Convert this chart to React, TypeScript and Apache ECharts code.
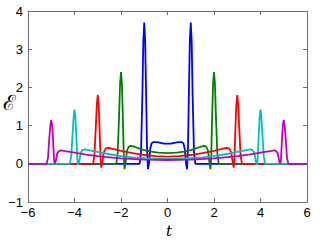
import React, { useEffect, useRef } from "react";
import * as echarts from "echarts";

const xTicks = [-6, -4, -2, 0, 2, 4, 6];
const yTicks = [-1, 0, 1, 2, 3, 4];

const blue: number[][] = [
  [-6, 0], [-1.2, 0], [-1.14, 0.3], [-1.08, 1.8], [-1.04, 3.2], [-1.0, 3.7], [-0.96, 3.2], [-0.92, 1.8],
  [-0.88, 0.4], [-0.84, -0.14], [-0.8, 0.0], [-0.74, 0.4], [-0.68, 0.54], [-0.6, 0.57], [-0.45, 0.57],
  [-0.3, 0.55], [-0.15, 0.53], [0, 0.53], [0.15, 0.53], [0.3, 0.55], [0.45, 0.57], [0.6, 0.57],
  [0.68, 0.54], [0.74, 0.4], [0.8, 0.0], [0.84, -0.14], [0.88, 0.4], [0.92, 1.8], [0.96, 3.2],
  [1.0, 3.7], [1.04, 3.2], [1.08, 1.8], [1.14, 0.3], [1.2, 0], [6, 0],
];

const green: number[][] = [
  [-6, 0], [-2.2, 0], [-2.14, 0.3], [-2.08, 1.3], [-2.04, 2.1], [-2.0, 2.4], [-1.96, 2.1], [-1.92, 1.2],
  [-1.88, 0.2], [-1.85, -0.14], [-1.8, 0.05], [-1.74, 0.35], [-1.66, 0.45], [-1.58, 0.47], [-1.4, 0.44],
  [-1.2, 0.4], [-1.0, 0.36], [-0.7, 0.32], [-0.4, 0.29], [0, 0.28], [0.4, 0.29], [0.7, 0.32],
  [1.0, 0.36], [1.2, 0.4], [1.4, 0.44], [1.58, 0.47], [1.66, 0.45], [1.74, 0.35], [1.8, 0.05],
  [1.85, -0.14], [1.88, 0.2], [1.92, 1.2], [1.96, 2.1], [2.0, 2.4], [2.04, 2.1], [2.08, 1.3],
  [2.14, 0.3], [2.2, 0], [6, 0],
];

const red: number[][] = [
  [-6, 0], [-3.2, 0], [-3.14, 0.25], [-3.08, 1.0], [-3.04, 1.55], [-3.0, 1.8], [-2.96, 1.55], [-2.92, 0.9],
  [-2.88, 0.15], [-2.85, -0.1], [-2.8, 0.05], [-2.74, 0.3], [-2.66, 0.4], [-2.58, 0.42], [-2.4, 0.4],
  [-2.0, 0.34], [-1.5, 0.28], [-1.0, 0.23], [-0.5, 0.2], [0, 0.19], [0.5, 0.2], [1.0, 0.23],
  [1.5, 0.28], [2.0, 0.34], [2.4, 0.4], [2.58, 0.42], [2.66, 0.4], [2.74, 0.3], [2.8, 0.05],
  [2.85, -0.1], [2.88, 0.15], [2.92, 0.9], [2.96, 1.55], [3.0, 1.8], [3.04, 1.55], [3.08, 1.0],
  [3.14, 0.25], [3.2, 0], [6, 0],
];

const cyan: number[][] = [
  [-6, 0], [-4.2, 0], [-4.14, 0.2], [-4.08, 0.8], [-4.04, 1.2], [-4.0, 1.42], [-3.96, 1.2], [-3.92, 0.7],
  [-3.88, 0.15], [-3.85, -0.03], [-3.8, 0.05], [-3.74, 0.28], [-3.66, 0.36], [-3.58, 0.38], [-3.4, 0.36],
  [-3.0, 0.31], [-2.5, 0.25], [-2.0, 0.2], [-1.5, 0.17], [-1.0, 0.15], [0, 0.13], [1.0, 0.15],
  [1.5, 0.17], [2.0, 0.2], [2.5, 0.25], [3.0, 0.31], [3.4, 0.36], [3.58, 0.38], [3.66, 0.36],
  [3.74, 0.28], [3.8, 0.05], [3.85, -0.03], [3.88, 0.15], [3.92, 0.7], [3.96, 1.2], [4.0, 1.42],
  [4.04, 1.2], [4.08, 0.8], [4.14, 0.2], [4.2, 0], [6, 0],
];

const magenta: number[][] = [
  [-6, 0], [-5.2, 0], [-5.14, 0.15], [-5.08, 0.7], [-5.04, 1.0], [-5.0, 1.15], [-4.96, 1.0], [-4.92, 0.6],
  [-4.88, 0.1], [-4.85, 0.0], [-4.8, 0.08], [-4.74, 0.28], [-4.66, 0.34], [-4.58, 0.35], [-4.4, 0.33],
  [-4.0, 0.29], [-3.5, 0.24], [-3.0, 0.2], [-2.5, 0.17], [-2.0, 0.14], [-1.0, 0.11], [0, 0.1],
  [1.0, 0.11], [2.0, 0.14], [2.5, 0.17], [3.0, 0.2], [3.5, 0.24], [4.0, 0.29], [4.4, 0.33],
  [4.58, 0.35], [4.66, 0.34], [4.74, 0.28], [4.8, 0.08], [4.85, 0.0], [4.88, 0.1], [4.92, 0.6],
  [4.96, 1.0], [5.0, 1.15], [5.04, 1.0], [5.08, 0.7], [5.14, 0.15], [5.2, 0], [6, 0],
];

const seriesList = [
  { name: "1", color: "#0000ff", data: blue },
  { name: "2", color: "#008000", data: green },
  { name: "3", color: "#ff0000", data: red },
  { name: "4", color: "#00bfbf", data: cyan },
  { name: "5", color: "#bf00bf", data: magenta },
];

const fmt = (v: number) => String(v).replace("-", "\u2212");

export default function App() {
  const ref = useRef<HTMLDivElement>(null);
  useEffect(() => {
    if (!ref.current) return;
    const chart = echarts.init(ref.current, null, { renderer: "svg" });
    const axisColor = "#6e6e6e";
    const labelFont = { fontFamily: "Liberation Sans, Arial, sans-serif", fontSize: 13, color: "#000" };
    const xBase = {
      type: "value" as const,
      min: xTicks[0],
      max: xTicks[xTicks.length - 1],
      interval: 2,
      splitLine: { show: false },
      axisLine: { show: true, onZero: false, lineStyle: { color: axisColor, width: 1 } },
      axisTick: { show: true, inside: true, length: 4, lineStyle: { color: axisColor } },
    };
    const yBase = {
      type: "value" as const,
      min: yTicks[0],
      max: yTicks[yTicks.length - 1],
      interval: 1,
      splitLine: { show: false },
      axisLine: { show: true, onZero: false, lineStyle: { color: axisColor, width: 1 } },
      axisTick: { show: true, inside: true, length: 4, lineStyle: { color: axisColor } },
    };
    chart.setOption({
      animation: false,
      backgroundColor: "#fff",
      grid: { left: 28, right: 16, top: 11, bottom: 39, containLabel: false },
      xAxis: [
        { ...xBase, position: "bottom", axisLabel: { ...labelFont, margin: 4, formatter: fmt } },
        { ...xBase, position: "top", axisLabel: { show: false } },
      ],
      yAxis: [
        { ...yBase, position: "left", axisLabel: { ...labelFont, margin: 5, formatter: fmt } },
        { ...yBase, position: "right", axisLabel: { show: false } },
      ],
      series: seriesList.map((s) => ({
        type: "line",
        name: s.name,
        data: s.data,
        showSymbol: false,
        symbol: "none",
        lineStyle: { color: s.color, width: 1.8 },
        itemStyle: { color: s.color },
      })),
      graphic: [
        {
          type: "text",
          left: 3,
          top: 92,
          style: { text: "\u2130", fontFamily: "DejaVu Serif, serif", fontSize: 21, fill: "#000" },
        },
        {
          type: "text",
          left: 166,
          top: 223,
          style: { text: "t", fontFamily: "DejaVu Serif, serif", fontStyle: "italic", fontSize: 15, fill: "#000" },
        },
      ],
    });
    return () => chart.dispose();
  }, []);
  return <div ref={ref} style={{ width: 323, height: 241, position: "absolute", left: 0, top: 0 }} />;
}
